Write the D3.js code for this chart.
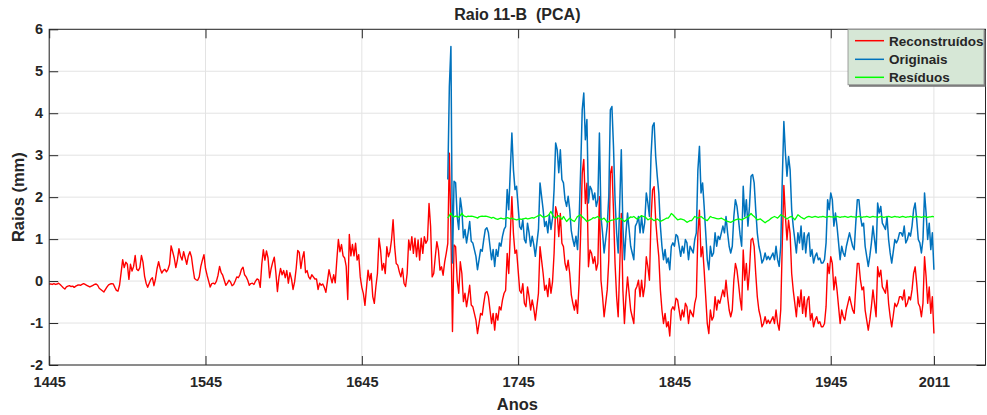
<!DOCTYPE html>
<html><head><meta charset="utf-8">
<script src="https://cdn.jsdelivr.net/npm/d3@7"></script>
<style>
body{margin:0;background:#fff}
svg text{font-family:"Liberation Sans",Arial,Helvetica,sans-serif;font-weight:bold;fill:#262626}
</style>
</head><body>
<svg id="chart" width="987" height="415"></svg>
<script>
// ---------------- DATA ----------------
const reconStart = 1445;
const reconstruidos = [
-0.07,-0.07,-0.08,-0.06,-0.08,-0.07,-0.05,-0.08,-0.12,-0.16,
-0.19,-0.14,-0.12,-0.11,-0.13,-0.12,-0.15,-0.12,-0.10,-0.09,
-0.10,-0.08,-0.06,-0.08,-0.10,-0.12,-0.14,-0.12,-0.10,-0.08,
-0.07,-0.10,-0.17,-0.20,-0.23,-0.26,-0.20,-0.14,-0.09,-0.07,
-0.06,-0.07,-0.15,-0.22,-0.24,-0.10,0.20,0.51,0.32,0.45,
0.40,0.04,0.40,0.24,0.35,0.61,0.28,0.25,0.32,0.61,
0.45,0.12,-0.05,-0.15,-0.05,0.04,0.08,-0.11,0.05,0.30,
0.46,0.30,0.19,0.25,0.28,0.22,0.28,0.40,0.84,0.70,
0.55,0.32,0.50,0.77,0.60,0.50,0.70,0.55,0.40,0.60,
0.70,0.58,0.30,0.06,0.03,0.02,0.10,0.35,0.50,0.63,
0.30,0.14,0.00,-0.14,-0.06,-0.05,-0.07,0.00,0.14,0.35,
0.20,0.14,0.02,-0.10,-0.05,0.02,-0.02,-0.11,-0.08,0.00,
0.10,0.08,0.15,0.28,0.33,0.15,0.10,0.02,-0.10,-0.06,
-0.05,-0.08,0.00,0.05,0.03,-0.15,0.40,0.75,0.50,0.72,
0.55,0.08,0.30,0.45,0.57,0.20,-0.25,0.10,0.30,0.15,
0.25,0.08,0.25,-0.05,0.20,0.05,-0.20,-0.02,0.30,0.73,
0.68,0.30,0.55,0.70,0.20,0.25,0.10,0.05,0.15,0.10,
0.05,0.05,-0.20,-0.05,-0.10,-0.07,-0.15,-0.27,0.00,0.27,
0.10,-0.04,0.15,-0.04,0.50,0.99,0.70,0.87,0.60,0.55,
0.35,-0.44,1.11,0.60,0.87,0.60,0.90,0.50,0.63,0.10,
-0.15,-0.30,-0.58,-0.15,0.26,0.02,0.18,-0.37,-0.53,-0.13,
0.18,1.02,0.74,0.26,0.42,0.18,0.82,0.58,0.70,0.98,
1.46,0.82,0.42,0.38,0.22,0.10,0.30,-0.05,-0.13,0.18,
0.98,0.74,1.06,0.66,1.02,0.58,0.98,0.50,1.02,0.66,
1.06,0.90,0.98,1.85,1.30,0.10,0.18,0.58,0.94,0.74,
0.26,0.34,0.14,0.45,0.66,0.90,3.05,1.20,-1.20,0.86,
0.82,0.02,-0.29,0.46,0.18,-0.49,-0.29,-0.61,-0.37,-0.10,
-0.57,-0.61,-0.77,-0.93,-1.25,-1.01,-0.77,-0.81,-0.53,-0.29,
-0.25,-0.37,-0.69,-1.01,-0.77,-1.17,-0.77,-0.93,-0.61,-0.69,
-0.45,-0.29,-0.22,0.66,0.18,1.13,2.01,1.13,0.66,0.74,
0.26,-0.22,-0.29,-0.06,-0.53,-0.61,-0.14,-0.37,-0.69,-0.45,
-0.65,-0.93,-0.61,-0.29,0.82,0.50,0.18,-0.22,-0.10,-0.37,
0.06,-0.29,-0.02,0.66,1.77,1.61,1.06,1.61,0.90,0.82,
0.42,0.26,0.50,0.18,-0.32,-0.53,-0.69,-0.45,-0.77,-0.06,
1.13,2.56,2.90,1.85,2.33,0.34,0.74,0.66,0.42,0.58,
0.26,0.42,2.01,0.02,-0.37,-0.85,-0.53,-0.21,0.50,2.56,
2.73,1.69,0.42,-0.37,-0.85,0.34,1.61,-0.21,-1.01,-0.37,
0.10,-0.29,-0.69,-0.85,-1.01,-0.21,-0.13,0.02,-0.37,0.02,
-0.37,-0.12,0.58,0.34,0.02,1.45,2.17,2.25,1.45,0.98,
0.58,-0.21,-0.69,-1.01,-0.77,-1.09,-0.97,-1.31,-0.69,-0.61,
-0.69,-0.41,-0.45,-0.69,-0.93,-0.69,-0.85,-0.53,-0.61,-1.01,
-0.69,-0.77,-0.85,-0.53,-0.37,1.13,1.69,0.58,0.82,0.26,
-0.37,-1.01,-1.25,-0.69,-0.93,-0.85,-0.37,-0.69,-0.45,-0.53,
-0.37,-0.21,-0.37,0.02,-0.37,-0.69,-0.85,-0.69,0.02,0.42,
0.26,-0.06,-0.42,-0.69,0.74,0.02,0.42,-0.21,0.26,0.98,
1.02,0.82,0.18,-0.37,-0.69,-0.85,-1.09,-1.01,-0.85,-1.01,
-0.93,-1.01,-0.93,-0.85,-1.01,-0.69,-1.01,-1.17,-0.69,0.90,
2.28,1.53,0.98,1.45,1.13,0.18,-0.22,-0.53,-0.85,-0.37,
-0.61,-0.21,-0.77,-0.37,-0.85,-0.45,-0.37,-0.93,-0.77,-1.09,
-0.93,-0.85,-1.01,-0.97,-1.09,-1.09,-1.01,-0.61,0.42,0.18,
0.58,0.42,-0.21,0.10,-0.21,-0.61,-1.01,-0.69,-0.85,-0.93,
-0.69,-0.53,-0.37,-0.53,-0.69,-0.77,-0.14,0.42,0.42,0.02,
-0.21,-0.14,-0.69,-0.93,-1.17,-0.92,-0.61,-0.21,-0.53,-0.85,
0.34,0.10,0.26,-0.14,-0.21,-0.29,0.02,-0.53,-0.85,-1.09,
-0.82,-0.53,-0.61,-0.53,-0.37,-0.37,-0.45,-0.21,-0.61,-0.53,
-0.37,-0.45,-0.21,0.18,0.34,-0.06,-0.53,-0.61,-0.85,-0.53,
0.58,0.10,-0.53,-0.14,-0.77,-0.37,-1.25
];
const origStart = 1700;
const originais = [
2.42,4.64,5.59,0.43,2.38,2.34,1.54,1.23,1.98,1.70,
1.03,1.23,0.91,1.15,1.42,0.95,0.91,0.75,0.59,0.27,
0.51,0.75,0.71,0.99,1.23,1.27,1.15,0.83,0.51,0.75,
0.35,0.75,0.59,0.91,0.83,1.07,1.23,1.30,2.18,1.70,
2.65,3.53,2.65,2.18,2.26,1.78,1.30,1.23,1.46,0.99,
0.91,1.38,1.15,0.83,1.07,0.87,0.59,0.91,1.23,2.34,
2.02,1.70,1.30,1.42,1.15,1.58,1.23,1.50,2.18,3.29,
3.13,2.58,3.13,2.42,2.34,1.94,1.78,2.02,1.70,1.20,
0.99,0.83,1.07,0.75,1.46,2.65,4.08,4.48,3.37,3.85,
1.86,2.26,2.18,1.94,2.10,1.78,1.94,3.53,1.54,1.15,
0.67,0.99,1.31,2.02,4.08,4.16,3.21,1.94,1.15,0.67,
1.86,3.13,1.31,0.51,1.15,1.62,1.23,0.83,0.67,0.51,
1.31,1.39,1.54,1.15,1.54,1.15,1.40,2.10,1.86,1.54,
2.97,3.69,3.77,2.97,2.50,2.10,1.31,0.83,0.51,0.75,
0.43,0.55,0.27,0.83,0.91,0.83,1.11,1.07,0.83,0.59,
0.83,0.67,0.99,0.91,0.51,0.83,0.75,0.67,0.99,1.15,
2.65,3.21,2.10,2.34,1.78,1.15,0.51,0.27,0.83,0.59,
0.67,1.15,0.83,1.07,0.99,1.15,1.31,1.15,1.54,1.15,
0.83,0.67,0.83,1.54,1.94,1.78,1.46,1.10,0.83,2.26,
1.54,1.94,1.31,1.78,2.50,2.54,2.34,1.70,1.15,0.83,
0.67,0.43,0.51,0.67,0.51,0.59,0.51,0.59,0.67,0.51,
0.83,0.51,0.35,0.83,2.42,3.80,3.05,2.50,2.97,2.65,
1.70,1.30,0.99,0.67,1.15,0.91,1.31,0.75,1.15,0.67,
1.07,1.15,0.59,0.75,0.43,0.59,0.67,0.51,0.55,0.43,
0.43,0.51,0.91,1.94,1.70,2.10,1.94,1.31,1.62,1.31,
0.91,0.51,0.83,0.67,0.59,0.83,0.99,1.15,0.99,0.83,
0.75,1.38,1.94,1.94,1.54,1.31,1.38,0.83,0.59,0.35,
0.60,0.91,1.31,0.99,0.67,1.86,1.62,1.78,1.38,1.31,
1.23,1.54,0.99,0.67,0.43,0.70,0.99,0.91,0.99,1.15,
1.15,1.07,1.31,0.91,0.99,1.15,1.07,1.31,1.70,1.86,
1.46,0.99,0.91,0.67,0.99,2.10,1.62,0.99,1.38,0.75,
1.15,0.27
];
const residuos = [
1.50,1.56,1.62,1.55,1.53,1.55,1.54,1.52,1.56,1.62,
1.56,1.54,1.53,1.55,1.54,1.55,1.54,1.53,1.52,1.50,
1.53,1.54,1.55,1.54,1.55,1.54,1.53,1.52,1.50,1.52,
1.50,1.48,1.47,1.49,1.50,1.49,1.48,1.50,1.51,1.50,
1.48,1.50,1.48,1.47,1.46,1.47,1.48,1.47,1.48,1.49,
1.50,1.48,1.49,1.50,1.51,1.50,1.52,1.54,1.56,1.58,
1.55,1.52,1.53,1.54,1.56,1.60,1.66,1.58,1.52,1.50,
1.53,1.56,1.52,1.47,1.54,1.48,1.42,1.46,1.50,1.47,
1.44,1.42,1.48,1.54,1.56,1.58,1.53,1.50,1.46,1.42,
1.44,1.46,1.48,1.51,1.50,1.52,1.54,1.50,1.46,1.48,
1.50,1.45,1.40,1.42,1.44,1.45,1.46,1.48,1.47,1.50,
1.49,1.48,1.45,1.42,1.45,1.48,1.50,1.53,1.52,1.54,
1.51,1.48,1.50,1.53,1.56,1.54,1.53,1.50,1.46,1.48,
1.50,1.47,1.44,1.46,1.48,1.45,1.42,1.44,1.46,1.48,
1.50,1.50,1.55,1.61,1.58,1.54,1.50,1.46,1.47,1.48,
1.47,1.46,1.43,1.40,1.42,1.44,1.44,1.49,1.54,1.52,
1.50,1.52,1.54,1.51,1.48,1.46,1.44,1.49,1.54,1.52,
1.51,1.50,1.49,1.48,1.49,1.50,1.48,1.46,1.44,1.42,
1.41,1.40,1.42,1.44,1.46,1.47,1.48,1.47,1.46,1.48,
1.50,1.52,1.54,1.57,1.61,1.57,1.54,1.50,1.46,1.47,
1.48,1.45,1.42,1.39,1.42,1.44,1.47,1.50,1.52,1.54,
1.52,1.50,1.54,1.58,1.56,1.54,1.51,1.48,1.51,1.53,
1.54,1.50,1.46,1.52,1.58,1.55,1.52,1.50,1.48,1.51,
1.53,1.54,1.53,1.52,1.53,1.54,1.53,1.52,1.53,1.53,
1.54,1.53,1.52,1.53,1.54,1.53,1.53,1.52,1.53,1.54,
1.53,1.52,1.53,1.53,1.54,1.53,1.52,1.53,1.54,1.53,
1.53,1.52,1.53,1.54,1.53,1.52,1.53,1.53,1.54,1.53,
1.52,1.53,1.54,1.53,1.53,1.52,1.53,1.54,1.53,1.52,
1.53,1.53,1.54,1.53,1.52,1.53,1.54,1.53,1.53,1.52,
1.53,1.54,1.53,1.52,1.53,1.53,1.54,1.53,1.52,1.53,
1.54,1.53,1.53,1.52,1.53,1.54,1.53,1.52,1.53,1.53,
1.54,1.53
];
const xTickValues = [1445, 1545, 1645, 1745, 1845, 1945, 2011];
const yTickValues = [-2, -1, 0, 1, 2, 3, 4, 5, 6];
const legendLabels = ["Reconstruídos", "Originais", "Resíduos"];
const chartTitle = "Raio 11-B  (PCA)";
const xLabel = "Anos";
const yLabel = "Raios (mm)";

// ---------------- CHART ----------------
const svg = d3.select("#chart");
const L = 49.2, R = 985.5, T = 29.3, B = 365;
const x = d3.scaleLinear().domain([1445, 2044]).range([L, R]);
const y = d3.scaleLinear().domain([-2, 6]).range([B, T]);
const axisColor = "#262626";
const colors = ["#ff0000", "#0072bd", "#00ff00"];
const plainNum = d => String(d);

// grid
const grid = svg.append("g");
grid.selectAll("line.gx").data(xTickValues).join("line")
  .attr("x1", d => x(d)).attr("x2", d => x(d)).attr("y1", T).attr("y2", B)
  .attr("stroke", "#e3e3e3").attr("stroke-width", 1);
grid.selectAll("line.gy").data(yTickValues).join("line")
  .attr("x1", L).attr("x2", R).attr("y1", d => y(d)).attr("y2", d => y(d))
  .attr("stroke", "#e3e3e3").attr("stroke-width", 1);

// series
function drawSeries(data, start, color, width) {
  const line = d3.line().x((d, i) => x(start + i)).y(d => y(d));
  svg.append("path").datum(data).attr("d", line)
    .attr("fill", "none").attr("stroke", color)
    .attr("stroke-width", width).attr("stroke-linejoin", "round");
}
drawSeries(reconstruidos, reconStart, colors[0], 1.4);
drawSeries(originais, origStart, colors[1], 1.5);
drawSeries(residuos, origStart, colors[2], 1.3);

// axes
function styleAxis(g) {
  g.selectAll(".domain").remove();
  g.selectAll(".tick line").attr("stroke", axisColor);
  g.selectAll(".tick text").attr("fill", axisColor).style("font-size", "14.5px").style("font-weight", "bold");
}
svg.append("g").attr("transform", `translate(0,${B})`)
  .call(d3.axisBottom(x).tickValues(xTickValues).tickFormat(plainNum).tickSize(-9).tickSizeOuter(0).tickPadding(12))
  .call(styleAxis);
svg.append("g").attr("transform", `translate(0,${T})`)
  .call(d3.axisTop(x).tickValues(xTickValues).tickFormat("").tickSize(-9).tickSizeOuter(0))
  .call(styleAxis);
svg.append("g").attr("transform", `translate(${L},0)`)
  .call(d3.axisLeft(y).tickValues(yTickValues).tickFormat(plainNum).tickSize(-9).tickSizeOuter(0).tickPadding(6))
  .call(styleAxis);
svg.append("g").attr("transform", `translate(${R},0)`)
  .call(d3.axisRight(y).tickValues(yTickValues).tickFormat("").tickSize(-9).tickSizeOuter(0))
  .call(styleAxis);

// box
svg.append("rect").attr("x", L).attr("y", T).attr("width", R - L).attr("height", B - T)
  .attr("fill", "none").attr("stroke", axisColor).attr("stroke-width", 1);

// titles
svg.append("text").attr("x", (L + R) / 2).attr("y", 20).attr("text-anchor", "middle")
  .style("font-size", "16px").style("white-space", "pre").text(chartTitle);
svg.append("text").attr("x", (L + R) / 2).attr("y", 410).attr("text-anchor", "middle")
  .style("font-size", "16.5px").text(xLabel);
svg.append("text").attr("transform", `translate(23.5,${(T + B) / 2}) rotate(-90)`).attr("text-anchor", "middle")
  .style("font-size", "16.5px").text(yLabel);

// legend
const lg = svg.append("g");
const lx = 848, ly = T, lw = R - lx, lh = 56.5;
lg.append("rect").attr("x", lx + 1).attr("y", ly + 1).attr("width", lw - 1).attr("height", lh)
  .attr("fill", "#7a7a7a");
lg.append("rect").attr("x", lx).attr("y", ly).attr("width", lw - 1.5).attr("height", lh - 1)
  .attr("fill", "#d6e7d6").attr("stroke", "#8a8a8a").attr("stroke-width", 0.8);
const rowY = [40.7, 59.3, 77.3];
legendLabels.forEach((lab, i) => {
  lg.append("line").attr("x1", 855).attr("x2", 884).attr("y1", rowY[i]).attr("y2", rowY[i])
    .attr("stroke", colors[i]).attr("stroke-width", 1.5);
  lg.append("text").attr("x", 889).attr("y", rowY[i] + 5).style("font-size", "13.5px").text(lab);
});
</script>
</body></html>
